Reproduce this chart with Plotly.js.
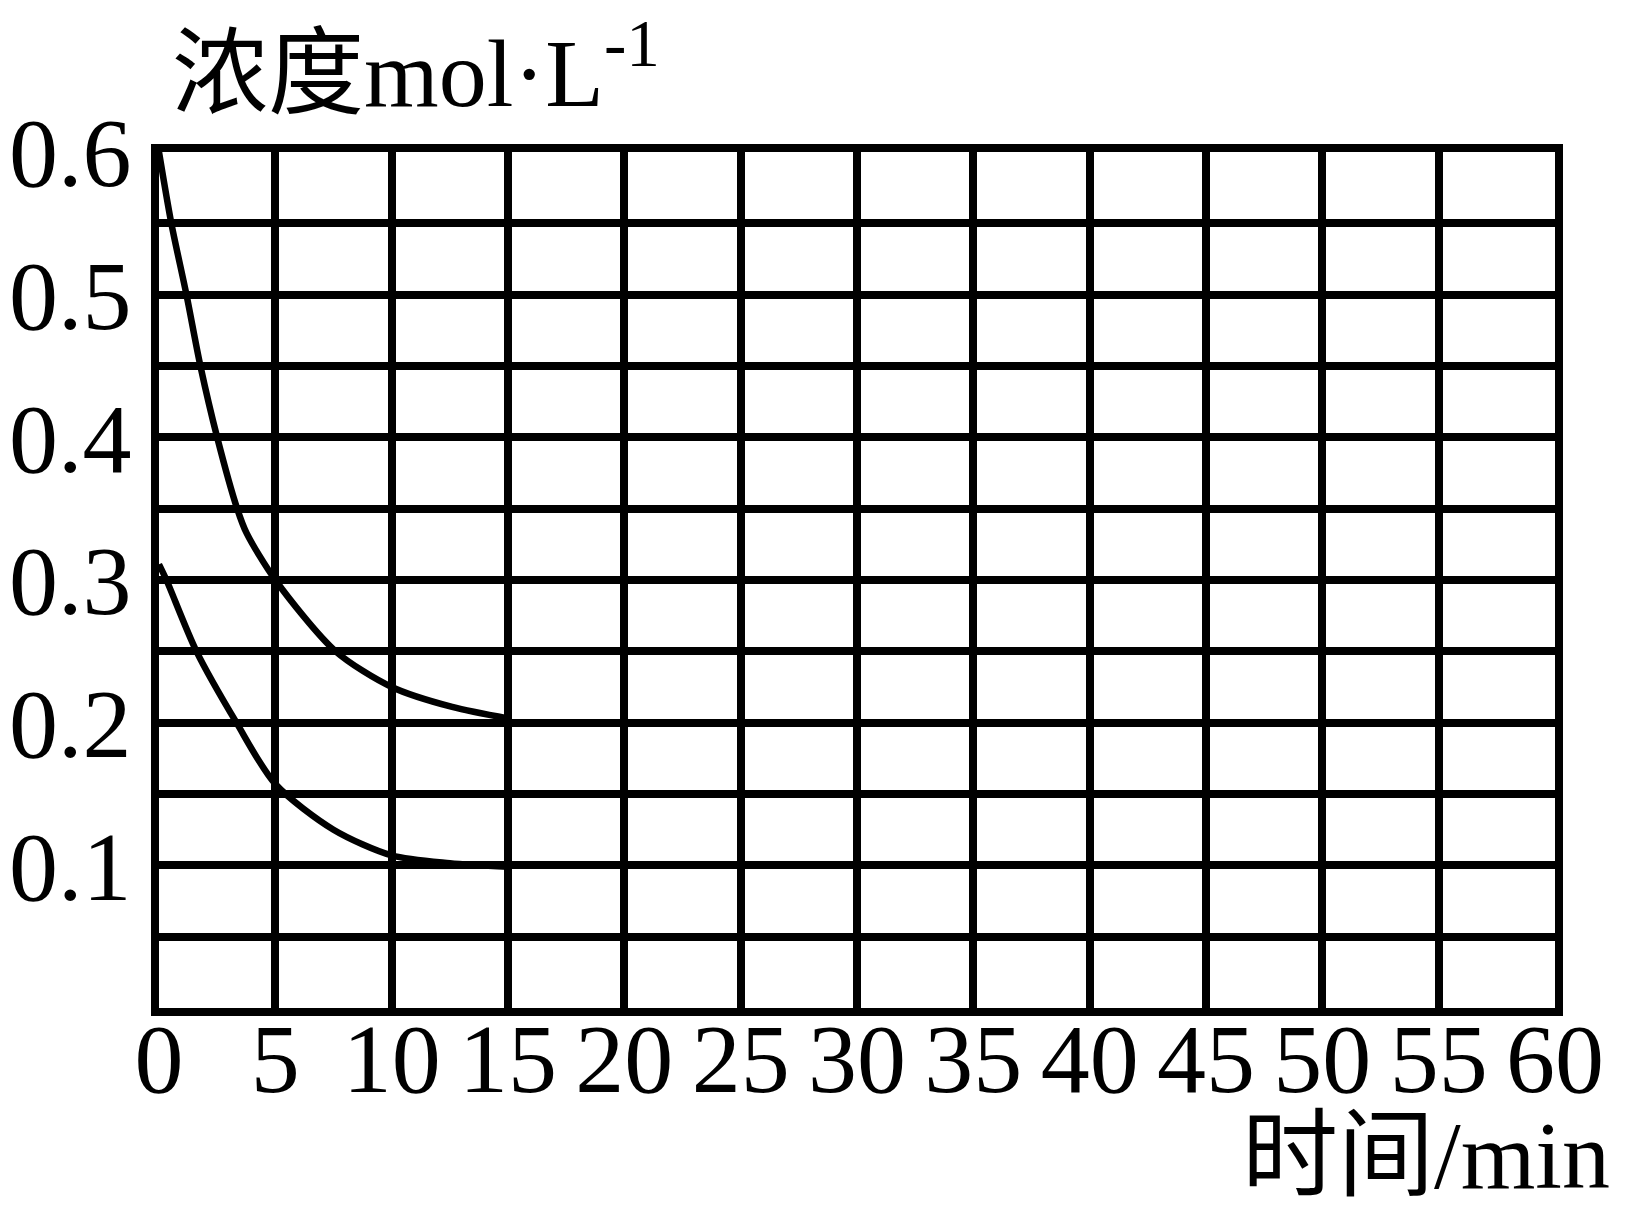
<!DOCTYPE html>
<html>
<head>
<meta charset="utf-8">
<script src="https://cdn.plot.ly/plotly-3.0.1.min.js"></script>
<style>html,body{margin:0;padding:0;background:#fff;}#chart{width:1625px;height:1214px;}</style>
</head>
<body>
<div id="chart"></div>
<script>
// Data
const upperTime = [0, 0.53, 1.18, 1.78, 2.5, 3.36, 3.76, 5, 7.59, 10, 12.6, 15];
const upperConc = [0.6, 0.55, 0.5, 0.45, 0.4, 0.35, 0.333, 0.30, 0.25, 0.225, 0.211, 0.203];
const lowerTime = [0, 0.32, 1.61, 3.33, 5, 7.5, 10, 12.5, 15];
const lowerConc = [0.311, 0.30, 0.25, 0.2, 0.157, 0.125, 0.107, 0.1015, 0.099];
const xTickVals = [0, 5, 10, 15, 20, 25, 30, 35, 40, 45, 50, 55, 60];
const xTickText = ['0', '5', '10', '15', '20', '25', '30', '35', '40', '45', '50', '55', '60'];
const yTickVals = [0.1, 0.2, 0.3, 0.4, 0.5, 0.6];
const yTickText = ['0.1', '0.2', '0.3', '0.4', '0.5', '0.6'];
const yTitle = '浓度mol·L<sup>-1</sup>';
const xTitle = '时间/min';

const FONT = '"Liberation Serif", "Times New Roman", "Noto Sans CJK SC", serif';

const lineStyle = {color: '#000', width: 6.5, shape: 'spline', smoothing: 0.8};
const traces = [
  {x: upperTime, y: upperConc, mode: 'lines', line: lineStyle, hoverinfo: 'skip'},
  {x: lowerTime, y: lowerConc, mode: 'lines', line: lineStyle, hoverinfo: 'skip'}
];

const layout = {
  width: 1625, height: 1214,
  margin: {l: 159, r: 70, t: 152, b: 206, pad: 0},
  paper_bgcolor: '#fff', plot_bgcolor: '#fff',
  showlegend: false,
  font: {family: FONT, color: '#000'},
  xaxis: {
    range: [0, 60], tickvals: xTickVals, ticktext: xTickText,
    showgrid: true, gridcolor: '#000', gridwidth: 8,
    showline: true, linecolor: '#000', linewidth: 8, mirror: true,
    zeroline: false, ticks: '', ticklabelstandoff: -42,
    tickfont: {family: FONT, size: 98, color: '#000'}, fixedrange: true
  },
  yaxis: {
    range: [0, 0.6], tickvals: yTickVals, ticktext: yTickText,
    showgrid: true, gridcolor: '#000', gridwidth: 8,
    minor: {dtick: 0.05, tick0: 0, showgrid: true, gridcolor: '#000', gridwidth: 8, ticks: ''},
    showline: true, linecolor: '#000', linewidth: 8, mirror: true,
    zeroline: false, ticks: '', ticklabelstandoff: 0,
    tickfont: {family: FONT, size: 98, color: '#000'}, fixedrange: true
  },
  annotations: [
    {text: yTitle, xref: 'paper', yref: 'paper', x: 0.008, y: 1.1,
     xanchor: 'left', yanchor: 'middle', showarrow: false,
     font: {family: FONT, size: 96, color: '#000'}},
    {text: xTitle, xref: 'paper', yref: 'paper', x: 1.041, y: -0.2375,
     xanchor: 'right', yanchor: 'bottom', showarrow: false,
     font: {family: FONT, size: 96, color: '#000'}}
  ]
};

Plotly.newPlot('chart', traces, layout, {displayModeBar: false, staticPlot: true});
</script>
</body>
</html>
